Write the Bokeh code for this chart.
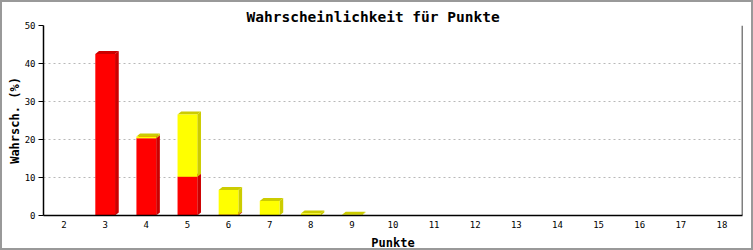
from bokeh.plotting import figure
from bokeh.models import Range1d, FixedTicker, Span
from bokeh.embed import file_html
from bokeh.resources import INLINE

# Data
points = [2, 3, 4, 5, 6, 7, 8, 9, 10, 11, 12, 13, 14, 15, 16, 17, 18]
red_vals = [0, 42.5, 20.3, 10.2, 0.2, 0, 0, 0, 0, 0, 0, 0, 0, 0, 0, 0, 0]
yellow_vals = [0, 0, 0.5, 16.4, 6.5, 3.8, 0.5, 0.2, 0, 0, 0, 0, 0, 0, 0, 0, 0]
y_ticks = [0, 10, 20, 30, 40, 50]

FONT = "DejaVu Sans Mono"
BAR_W = 0.48
DX = 0.09
DY = 0.8

p = figure(width=753, height=250, x_range=Range1d(1.5, 18.5), y_range=Range1d(0, 50),
           output_backend="svg", toolbar_location=None,
           min_border_left=41, min_border_right=13, min_border_top=23, min_border_bottom=34)
p.styles = {"box-sizing": "border-box", "border": "2px solid #999999"}

p.title.text = "Wahrscheinlichkeit für Punkte"
p.title.align = "left"
p.title.offset = 203
p.title.text_font = FONT
p.title.text_font_size = "14.5px"
p.title.text_font_style = "bold"
p.title.text_color = "black"
p.title.standoff = 2
p.outline_line_color = None
p.background_fill_color = "white"
p.border_fill_color = "white"

# axes
p.xaxis.ticker = FixedTicker(ticks=points)
p.yaxis.ticker = FixedTicker(ticks=y_ticks)
for ax in (p.xaxis[0], p.yaxis[0]):
    ax.axis_line_color = "black"
    ax.axis_line_width = 1.5
    ax.major_label_text_font = FONT
    ax.major_label_text_font_size = "9px"
    ax.major_label_text_color = "black"
    ax.minor_tick_line_color = None
    ax.axis_label_text_font = FONT
    ax.axis_label_text_font_size = "12px"
    ax.axis_label_text_font_style = "bold"
    ax.axis_label_text_color = "black"
p.xaxis.major_tick_line_color = None
p.xaxis.major_tick_out = 0
p.xaxis.major_tick_in = 0
p.xaxis.major_label_standoff = 5
p.xaxis.axis_label_standoff = 5
p.xaxis.axis_label = "Punkte"
p.yaxis.axis_label = "Wahrsch. (%)"
p.yaxis.major_tick_out = 5
p.yaxis.major_tick_in = 0
p.yaxis.major_tick_line_color = "black"
p.yaxis.major_label_standoff = 3
p.yaxis.axis_label_standoff = 0

p.xgrid.grid_line_color = None
p.ygrid.grid_line_color = "#b8b8b8"
p.ygrid.grid_line_dash = "2 3"
p.ygrid.grid_line_width = 1

p.add_layout(Span(location=18.5, dimension="height", line_color="black", line_width=1.5))

# 3D stacked bars
def segs(base, top, xc):
    x0 = xc - BAR_W / 2
    x1 = xc + BAR_W / 2
    side = ([x1, x1 + DX, x1 + DX, x1], [base, base + DY, top + DY, top])
    topf = ([x0, x0 + DX, x1 + DX, x1], [top, top + DY, top + DY, top])
    return side, topf

layers = [(red_vals, "#ff0000", "#cc0000"), (yellow_vals, "#ffff00", "#cccc00")]
bases = [0.0] * len(points)
for vals, front_c, dark_c in layers:
    xs, ys, fl, fr, fb, ft = [], [], [], [], [], []
    for i, (xc, v) in enumerate(zip(points, vals)):
        if v <= 0:
            continue
        b = bases[i]
        t = b + v
        side, topf = segs(b, t, xc)
        xs += [side[0], topf[0]]
        ys += [side[1], topf[1]]
        fl.append(xc - BAR_W / 2)
        fr.append(xc + BAR_W / 2)
        fb.append(b)
        ft.append(t)
        bases[i] = t
    p.patches(xs, ys, fill_color=dark_c, line_color=None)
    p.quad(left=fl, right=fr, bottom=fb, top=ft, fill_color=front_c, line_color=None)

open("out.html", "w").write(file_html(p, INLINE))
